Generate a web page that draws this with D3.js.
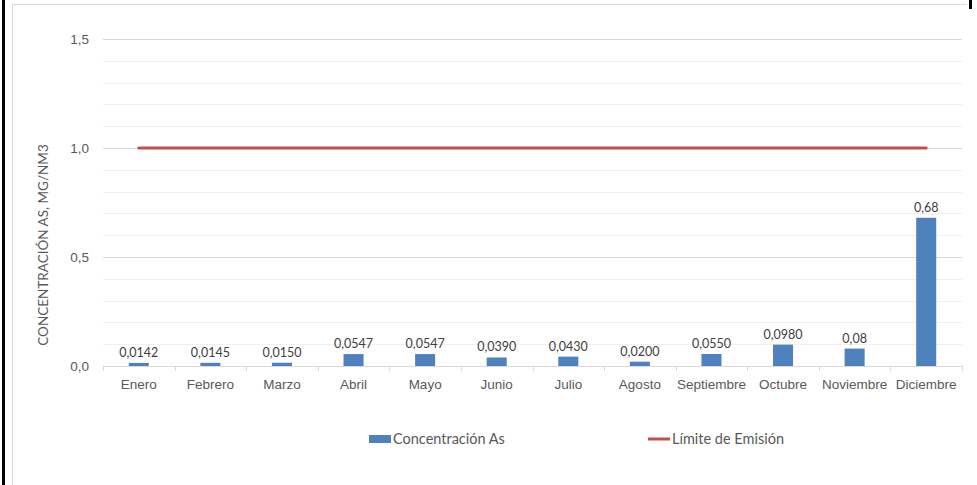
<!DOCTYPE html>
<html>
<head>
<meta charset="utf-8">
<script src="https://cdn.jsdelivr.net/npm/d3@7"></script>
<style>
  body { margin: 0; background: #fff; }
  svg { display: block; font-family: Lato, "Open Sans", sans-serif; }
</style>
</head>
<body>
<div class="container"></div>
<script>
var months = ['Enero','Febrero','Marzo','Abril','Mayo','Junio','Julio','Agosto','Septiembre','Octubre','Noviembre','Diciembre'];
var concentracion = [0.0142, 0.0145, 0.0150, 0.0547, 0.0547, 0.0390, 0.0430, 0.0200, 0.0550, 0.0980, 0.08, 0.68];
var valueLabels = ['0,0142','0,0145','0,0150','0,0547','0,0547','0,0390','0,0430','0,0200','0,0550','0,0980','0,08','0,68'];
var limite = [1,1,1,1,1,1,1,1,1,1,1,1];
var yTicks = [0, 0.5, 1.0, 1.5];
var yTickLabels = ['0,0','0,5','1,0','1,5'];
var seriesNames = ['Concentración As', 'Límite de Emisión'];

const WIDTH = 977;
const HEIGHT = 485;
const LEFT = 103, RIGHT = 962, TOP = 39, BOTTOM = 366;

var BLUE = '#4f81bd';
var RED = '#c0504d';

var svg = d3.select('.container').append('svg')
  .attr('width', WIDTH)
  .attr('height', HEIGHT);

// outer frame bits
svg.append('line').attr('x1', 12.5).attr('x2', 12.5).attr('y1', 4).attr('y2', HEIGHT)
  .attr('stroke', '#d9d9d9').attr('stroke-width', 1);
svg.append('line').attr('x1', 12).attr('x2', 967).attr('y1', 4.5).attr('y2', 4.5)
  .attr('stroke', '#d9d9d9').attr('stroke-width', 1);
svg.append('rect').attr('x', 2).attr('y', 0).attr('width', 3).attr('height', HEIGHT).attr('fill', '#000');
svg.append('rect').attr('x', 969).attr('y', 0).attr('width', 3).attr('height', 9).attr('fill', '#000');

var xScale = d3.scaleBand()
  .domain(months)
  .range([LEFT, RIGHT])
  .paddingInner(0.72)
  .paddingOuter(0.36);

var xBand = d3.scaleBand()
  .domain(months)
  .range([LEFT, RIGHT]);

var yScale = d3.scaleLinear()
  .domain([0, 1.5])
  .range([BOTTOM, TOP]);

// minor gridlines every 0.1
var minor = d3.range(0, 16).map(function(i){ return i / 10; });
svg.append('g').selectAll('line')
  .data(minor)
  .enter().append('line')
  .attr('x1', LEFT).attr('x2', RIGHT)
  .attr('y1', function(d){ return Math.round(yScale(d)) + 0.5; })
  .attr('y2', function(d){ return Math.round(yScale(d)) + 0.5; })
  .attr('stroke', function(d){ return yTicks.some(function(t){ return Math.abs(t - d) < 1e-9; }) ? '#d9d9d9' : '#f0f0f0'; })
  .attr('stroke-width', 1);

// y axis labels
var yAxis = d3.axisLeft(yScale)
  .tickValues(yTicks)
  .tickSize(0)
  .tickPadding(0)
  .tickFormat(function(d, i){ return yTickLabels[i]; });

var gy = svg.append('g')
  .attr('transform', 'translate(' + (LEFT - 14) + ',0)')
  .call(yAxis);
gy.select('.domain').remove();
gy.selectAll('text').attr('fill', '#595959').attr('font-size', 13.5);

// category axis
var xAxis = d3.axisBottom(xBand).tickSize(0).tickPadding(13);
var gx = svg.append('g')
  .attr('transform', 'translate(0,' + BOTTOM + ')')
  .call(xAxis);
gx.select('.domain').attr('stroke', '#d9d9d9');
gx.selectAll('text').attr('fill', '#595959').attr('font-size', 13.5);

var tickPos = months.map(function(m){ return xBand(m); }).concat([RIGHT]);
svg.append('g').selectAll('line')
  .data(tickPos)
  .enter().append('line')
  .attr('x1', function(d){ return Math.round(d) + 0.5; })
  .attr('x2', function(d){ return Math.round(d) + 0.5; })
  .attr('y1', BOTTOM).attr('y2', BOTTOM + 5)
  .attr('stroke', '#d9d9d9');

// bars
svg.append('g').selectAll('rect')
  .data(concentracion)
  .enter().append('rect')
  .attr('x', function(d, i){ return xScale(months[i]); })
  .attr('width', xScale.bandwidth())
  .attr('y', function(d){ return yScale(d); })
  .attr('height', function(d){ return BOTTOM - yScale(d); })
  .attr('fill', BLUE);

// data labels
svg.append('g').selectAll('text')
  .data(concentracion)
  .enter().append('text')
  .attr('x', function(d, i){ return xBand(months[i]) + xBand.bandwidth() / 2; })
  .attr('y', function(d){ return yScale(d) - 6; })
  .attr('text-anchor', 'middle')
  .attr('fill', '#404040')
  .attr('font-size', 12.5)
  .text(function(d, i){ return valueLabels[i]; });

// limit line
var line = d3.line()
  .x(function(d, i){ return xBand(months[i]) + xBand.bandwidth() / 2; })
  .y(function(d){ return yScale(d); });

svg.append('path')
  .datum(limite)
  .attr('d', line)
  .attr('fill', 'none')
  .attr('stroke', RED)
  .attr('stroke-width', 3)
  .attr('stroke-linecap', 'round');

// y title
svg.append('text')
  .attr('transform', 'translate(48,245) rotate(-90)')
  .attr('text-anchor', 'middle')
  .attr('fill', '#595959')
  .attr('font-size', 13.5)
  .text('CONCENTRACIÓN AS, MG/NM3');

// legend
var legend = svg.append('g');
legend.append('rect')
  .attr('x', 369).attr('y', 435).attr('width', 22).attr('height', 8)
  .attr('fill', BLUE);
legend.append('text')
  .attr('x', 393).attr('y', 444)
  .attr('fill', '#595959').attr('font-size', 14.5)
  .text(seriesNames[0]);
legend.append('line')
  .attr('x1', 648).attr('x2', 670).attr('y1', 439).attr('y2', 439)
  .attr('stroke', RED).attr('stroke-width', 3);
legend.append('text')
  .attr('x', 672).attr('y', 444)
  .attr('fill', '#595959').attr('font-size', 14.5)
  .text(seriesNames[1]);
</script>
</body>
</html>
